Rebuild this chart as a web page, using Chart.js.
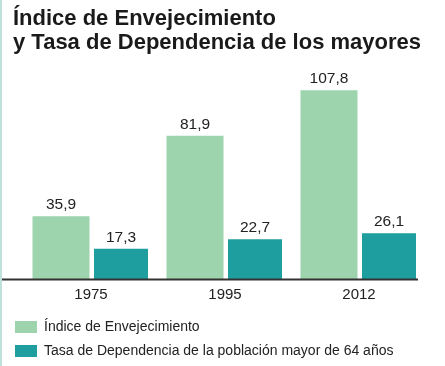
<!DOCTYPE html>
<html lang="es">
<head>
<meta charset="utf-8">
<script src="https://cdn.jsdelivr.net/npm/chart.js@4"></script>
<style>
  html, body { margin: 0; padding: 0; background: #fff; }
  #wrap { position: relative; width: 445px; height: 366px; overflow: hidden; }
  #edge { position: absolute; left: 0; top: 0; width: 2px; height: 366px; background: #c0e0da; }
  #title {
    position: absolute; left: 13px; top: 6px;
    font: bold 22px/24px "Liberation Sans", Arial, sans-serif;
    color: #1a1a1a;
  }
  canvas { position: absolute; left: 0; top: 0; }
</style>
</head>
<body>
<div id="wrap">
  <canvas id="agingChart" width="445" height="366"></canvas>
  <div id="edge"></div>
  <div id="title">Índice de Envejecimiento<br>y Tasa de Dependencia de los mayores</div>
</div>
<script>
const years = ["1975", "1995", "2012"];
const agingIndex = [35.9, 81.9, 107.8];
const dependencyRate = [17.3, 22.7, 26.1];
const seriesNames = ["Índice de Envejecimiento", "Tasa de Dependencia de la población mayor de 64 años"];

// numbers above each bar, written with a decimal comma
const valueLabels = {
    id: "valueLabels",
    afterDatasetsDraw(chart) {
        const ctx = chart.ctx;
        ctx.save();
        ctx.font = '15.5px "Liberation Sans"';
        ctx.fillStyle = "#222";
        ctx.textAlign = "center";
        ctx.textBaseline = "alphabetic";
        chart.data.datasets.forEach((ds, i) => {
            chart.getDatasetMeta(i).data.forEach((bar, j) => {
                ctx.fillText(ds.data[j].toFixed(1).replace(".", ","), bar.x, bar.y - 7);
            });
        });
        ctx.restore();
    }
};

// dark base line, runs a bit further left than the plot area
const baseLine = {
    id: "baseLine",
    afterDatasetsDraw(chart) {
        const ctx = chart.ctx;
        const y = chart.chartArea.bottom + 0.5;
        ctx.save();
        ctx.strokeStyle = "#333";
        ctx.lineWidth = 1.8;
        ctx.beginPath();
        ctx.moveTo(2, y);
        ctx.lineTo(chart.chartArea.right - 8, y);
        ctx.stroke();
        ctx.restore();
    }
};

const ctx = document.getElementById("agingChart").getContext("2d");
new Chart(ctx, {
    type: "bar",
    data: {
        labels: years,
        datasets: [
            {
                label: seriesNames[0],
                data: agingIndex,
                backgroundColor: "#9dd4ae",
                barPercentage: 0.95,
            },
            {
                label: seriesNames[1],
                data: dependencyRate,
                backgroundColor: "#1e9e9f",
                barPercentage: 0.9,
            },
        ],
    },
    options: {
        responsive: false,
        animation: false,
        devicePixelRatio: 1,
        layout: { padding: { top: 69, left: 5, right: 19, bottom: -2 } },
        datasets: { bar: { categoryPercentage: 0.8955 } },
        scales: {
            x: {
                grid: { display: false, drawTicks: false },
                border: { display: false },
                ticks: { color: "#222", padding: 6.5, font: { family: "Liberation Sans", size: 15 } },
            },
            y: {
                min: 0,
                max: 120,
                grid: { display: false, drawTicks: false },
                border: { display: false },
                ticks: { display: false },
                afterFit: (scale) => { scale.width = 19; },
            },
        },
        plugins: {
            legend: {
                position: "bottom",
                align: "start",
                labels: {
                    boxWidth: 22,
                    boxHeight: 12,
                    padding: 10,
                    color: "#222",
                    font: { family: "Liberation Sans", size: 14 },
                },
            },
            tooltip: { enabled: false },
        },
    },
    plugins: [valueLabels, baseLine],
});
</script>
</body>
</html>
